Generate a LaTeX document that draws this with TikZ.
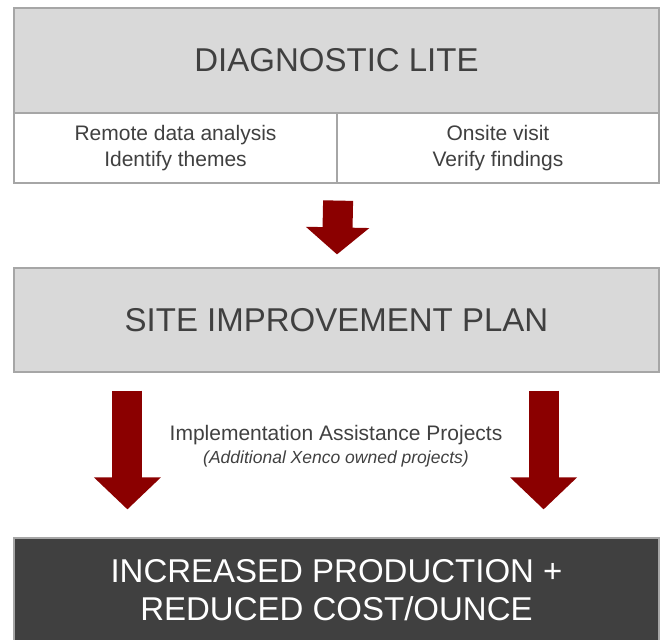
\documentclass[tikz,border=0pt]{standalone}
\usepackage{fontspec}
\setmainfont{Liberation Sans}
\usetikzlibrary{arrows.meta,positioning}
\definecolor{boxgray}{HTML}{D9D9D9}
\definecolor{edgegray}{HTML}{A6A6A6}
\definecolor{textgray}{HTML}{404040}
\definecolor{darkbox}{HTML}{404040}
\definecolor{arrowred}{HTML}{8B0000}

\begin{document}
\begin{tikzpicture}[x=1pt,y=1pt,
	header/.style={rectangle, draw=edgegray, line width=1.2pt, fill=boxgray, text=textgray, minimum width=645pt, minimum height=105pt, font=\fontsize{33}{38}\selectfont},
	cell/.style={rectangle, draw=edgegray, line width=1.2pt, fill=white, text=textgray, align=center, minimum height=70pt, font=\fontsize{21}{26}\selectfont},
	result/.style={rectangle, draw=edgegray, line width=1.2pt, fill=darkbox, text=white, align=center, minimum width=645pt, minimum height=104pt, font=\fontsize{33}{38}\selectfont},
	bigarrow/.style={draw=arrowred, line width=30pt, -{Triangle[length=27pt, width=62pt, fill=arrowred]}},
	longarrow/.style={draw=arrowred, line width=30pt, -{Triangle[length=32pt, width=65pt, fill=arrowred]}},
	note/.style={text=textgray, inner sep=0pt}]
		\useasboundingbox (0,0) rectangle (663,-639);

		\node[header] (diag) at (336.5,-60.5) {DIAGNOSTIC LITE};
		\node[cell, minimum width=323pt] (remote) at (175.5,-148) {Remote data analysis\\Identify themes};
		\node[cell, minimum width=322pt] (onsite) at (498,-148) {Onsite visit\\Verify findings};

		\node[header, minimum height=104pt] (sip) at (336.5,-320) {SITE IMPROVEMENT PLAN};

		\node[result] (outcome) at (336.5,-590) {INCREASED PRODUCTION +\\REDUCED COST/OUNCE};

		\draw[bigarrow] ([xshift=0.5pt,yshift=-17pt]remote.south east) -- ([xshift=0.5pt,yshift=13pt]sip.north);
		\draw[longarrow] ([xshift=114pt,yshift=-18pt]sip.south west) -- ([xshift=114pt,yshift=28pt]outcome.north west);
		\draw[longarrow] ([xshift=-116pt,yshift=-18pt]sip.south east) -- ([xshift=-116pt,yshift=28pt]outcome.north east);

		\node[note, font=\fontsize{21}{24}\selectfont] (iap) at (336,-435) {Implementation Assistance Projects};
		\node[note, font=\fontsize{17.5}{20}\selectfont\itshape] (owned) at (336,-459) {(Additional Xenco owned projects)};
	\end{tikzpicture}
\end{document}
